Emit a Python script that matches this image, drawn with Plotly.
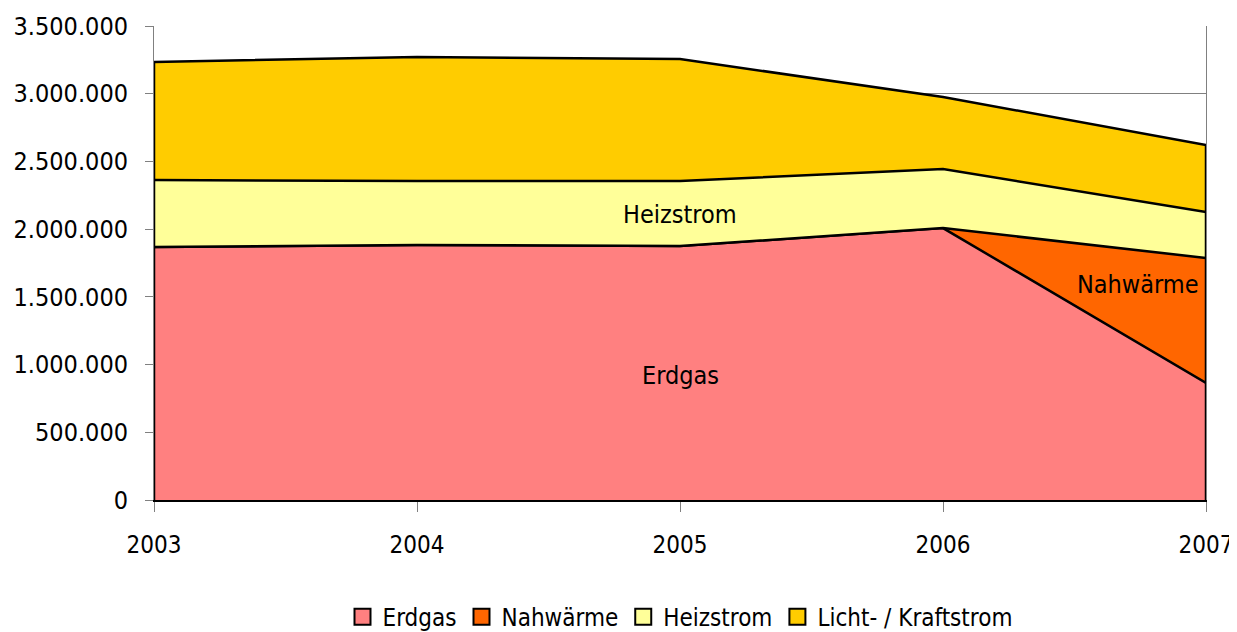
import plotly.graph_objects as go

# Jahre und Verbrauchswerte (gestapelt)
jahre = [2003, 2004, 2005, 2006, 2007]
erdgas = [1868000, 1883000, 1875000, 2008000, 864000]
nahwaerme = [0, 0, 0, 0, 923000]
heizstrom = [495000, 472000, 480000, 436000, 340000]
licht_kraft = [871000, 916000, 901000, 532000, 494000]

serien = [
    ("Erdgas", erdgas, "#FF8080"),
    ("Nahwärme", nahwaerme, "#FF6600"),
    ("Heizstrom", heizstrom, "#FFFF99"),
    ("Licht- / Kraftstrom", licht_kraft, "#FFCC00"),
]

FONT = "DejaVu Sans Condensed, Liberation Sans Narrow, sans-serif"

fig = go.Figure()
for name, werte, farbe in serien:
    fig.add_trace(go.Scatter(
        x=jahre, y=werte, name=name, stackgroup="one", mode="lines",
        line=dict(color="black", width=2.5), fillcolor=farbe,
        showlegend=False, hoverinfo="x+y+name",
    ))

# seitliche Ränder der Fläche
summe = [sum(v) for v in zip(erdgas, nahwaerme, heizstrom, licht_kraft)]
for i in (0, -1):
    fig.add_trace(go.Scatter(
        x=[jahre[i], jahre[i]], y=[0, summe[i]], mode="lines",
        line=dict(color="black", width=2.5), showlegend=False,
        hoverinfo="skip",
    ))

# Legende mit quadratischen Symbolen
for name, _, farbe in serien:
    fig.add_trace(go.Scatter(
        x=[None], y=[None], name=name, mode="markers",
        marker=dict(symbol="square", size=16, color=farbe,
                    line=dict(color="black", width=2)),
    ))

fig.add_annotation(x=2005, y=920000, text="Erdgas", showarrow=False,
                   font=dict(size=25, color="black", family=FONT))
fig.add_annotation(x=2005, y=2110000, text="Heizstrom", showarrow=False,
                   font=dict(size=25, color="black", family=FONT))
fig.add_annotation(x=2006.74, y=1590000, text="Nahwärme", showarrow=False,
                   font=dict(size=25, color="black", family=FONT))

# Seite hat 8px Rand -> Figur entsprechend verschoben
fig.update_layout(
    width=1229, height=632,
    margin=dict(l=146, r=31, t=18, b=140),
    paper_bgcolor="white", plot_bgcolor="white",
    separators=",.",
    font=dict(family=FONT, size=25, color="black"),
    showlegend=True,
    legend=dict(orientation="h", x=0.5, xanchor="center",
                yref="container", y=0.036, yanchor="middle",
                traceorder="normal", itemwidth=30,
                font=dict(size=24, family=FONT)),
)
fig.update_xaxes(
    range=[2003, 2007], tickvals=jahre, ticks="outside", ticklen=10,
    tickcolor="#808080", showgrid=False, zeroline=False,
    showline=True, linecolor="black", linewidth=2,
    tickfont=dict(size=24), ticklabelstandoff=12, automargin=False,
)
fig.update_yaxes(
    range=[0, 3500000], dtick=500000, tickformat=",d", ticks="outside",
    ticklen=8, tickcolor="#808080", showgrid=True, gridcolor="#808080",
    gridwidth=1, zeroline=False, showline=True, linecolor="#808080",
    linewidth=1, mirror=True, tickfont=dict(size=25),
    ticklabelstandoff=12, automargin=False,
)

fig.write_html("out.html")
